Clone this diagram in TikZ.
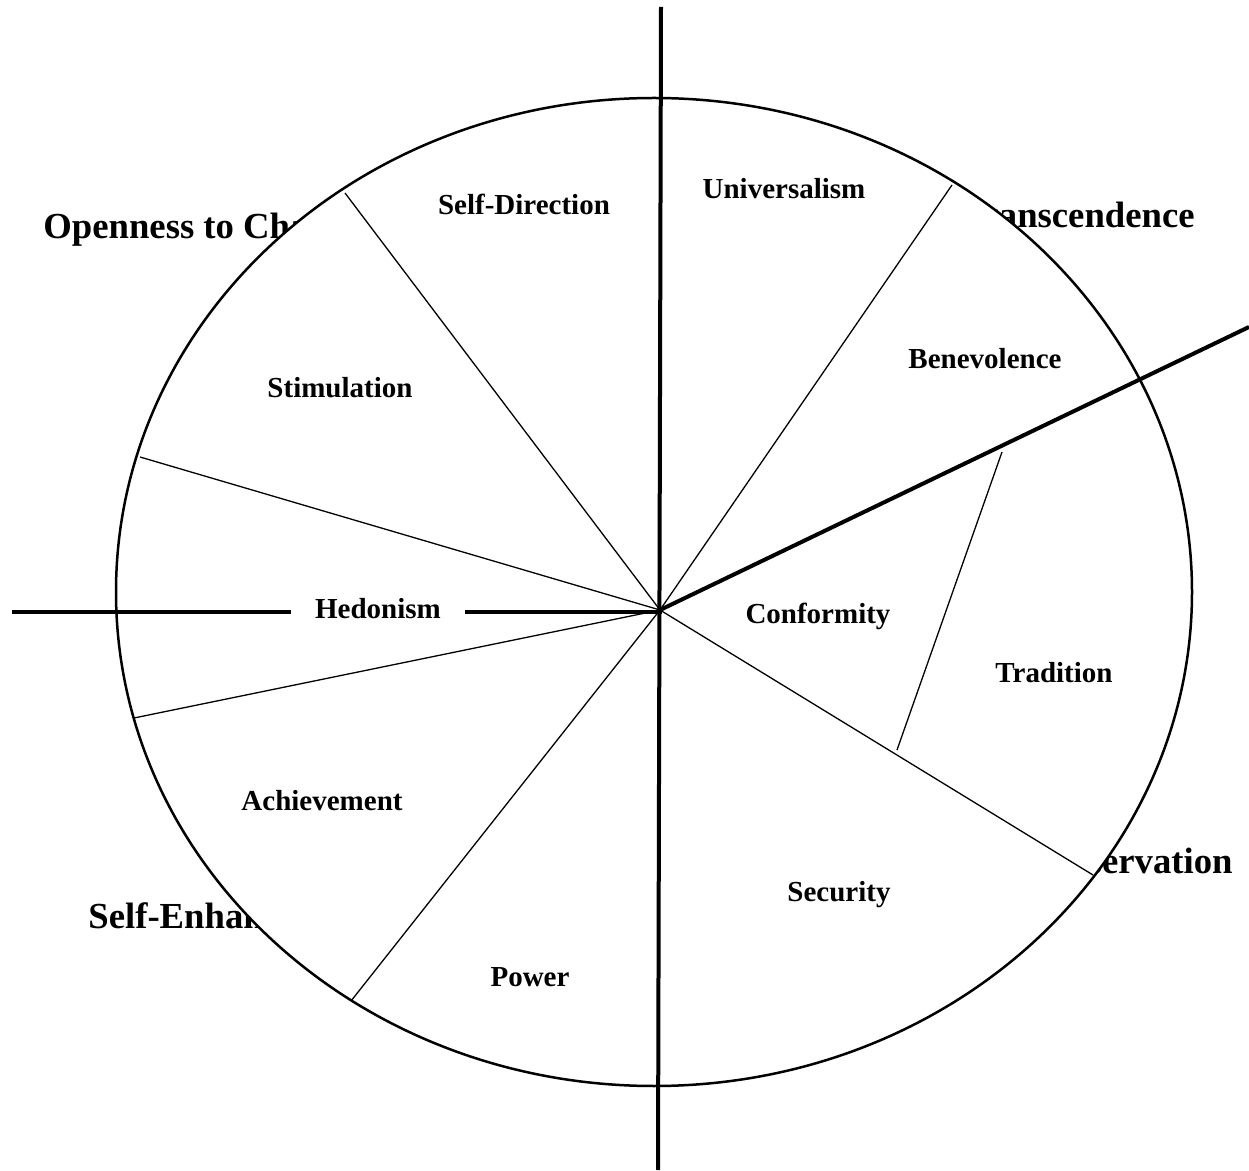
\documentclass[tikz,border=0pt]{standalone}
\usepackage{fontspec}
\setmainfont{Liberation Serif}
\begin{document}
\begin{tikzpicture}[x=0.5pt,y=-0.5pt,
  rim/.style={line width=1.25pt},
  divider/.style={line width=0.65pt},
  axis/.style={line width=2pt},
  region/.style={font=\fontsize{18.35}{20}\selectfont\bfseries, inner sep=0pt},
  value/.style={font=\fontsize{14.5}{16}\selectfont\bfseries, inner sep=0pt}]
\useasboundingbox (0,0) rectangle (1249,1171);

% higher-order value labels (partly covered by the circle)
\node[region, anchor=base west] (open) at (43,239) {Openness to Change};
\node[region, anchor=base east] (trans) at (1195,228) {Self-Transcendence};
\node[region, anchor=base east] (cons) at (1233,873) {Conservation};
\node[region, anchor=base west] (enh) at (88,928) {Self-Enhancement};

% the value circle
\draw[rim, fill=white] (654,592) ellipse [x radius=538, y radius=494];

% centre and rim points
\coordinate (c) at (660,610);
\coordinate (p1) at (345,193);
\coordinate (p2) at (952,185);
\coordinate (p3) at (140,457);
\coordinate (p4) at (134,718);
\coordinate (p5) at (351,1001);
\coordinate (p6) at (1093,875);
\coordinate (q1) at (1002,452);
\coordinate (q2) at (897,750);
\coordinate (top) at (661,7);
\coordinate (bot) at (658,1170);
\coordinate (ne) at (1249,327);
\coordinate (w) at (12,612);

% sector dividers
\foreach \p in {p1,p2,p3,p4,p5,p6} \draw[divider] (c) -- (\p);
\draw[divider] (q1) -- (q2);

% dimension axes
\draw[axis] (top) -- (bot);
\draw[axis] (c) -- (ne);
\draw[axis] (w) -- (c |- w) -- (c);

% value labels
\node[value, fill=white, inner xsep=12pt, inner ysep=3pt] (hed) at (378,609) {Hedonism};
\node[value] (sd) at (524,204) {Self-Direction};
\node[value] (uni) at (784,189) {Universalism};
\node[value] (ben) at (985,359) {Benevolence};
\node[value] (sti) at (340,388) {Stimulation};
\node[value] (con) at (818,616) {Conformity};
\node[value] (tra) at (1054,673) {Tradition};
\node[value] (ach) at (322,801) {Achievement};
\node[value] (sec) at (839,895) {Security};
\node[value] (pow) at (530,977) {Power};
\end{tikzpicture}
\end{document}
